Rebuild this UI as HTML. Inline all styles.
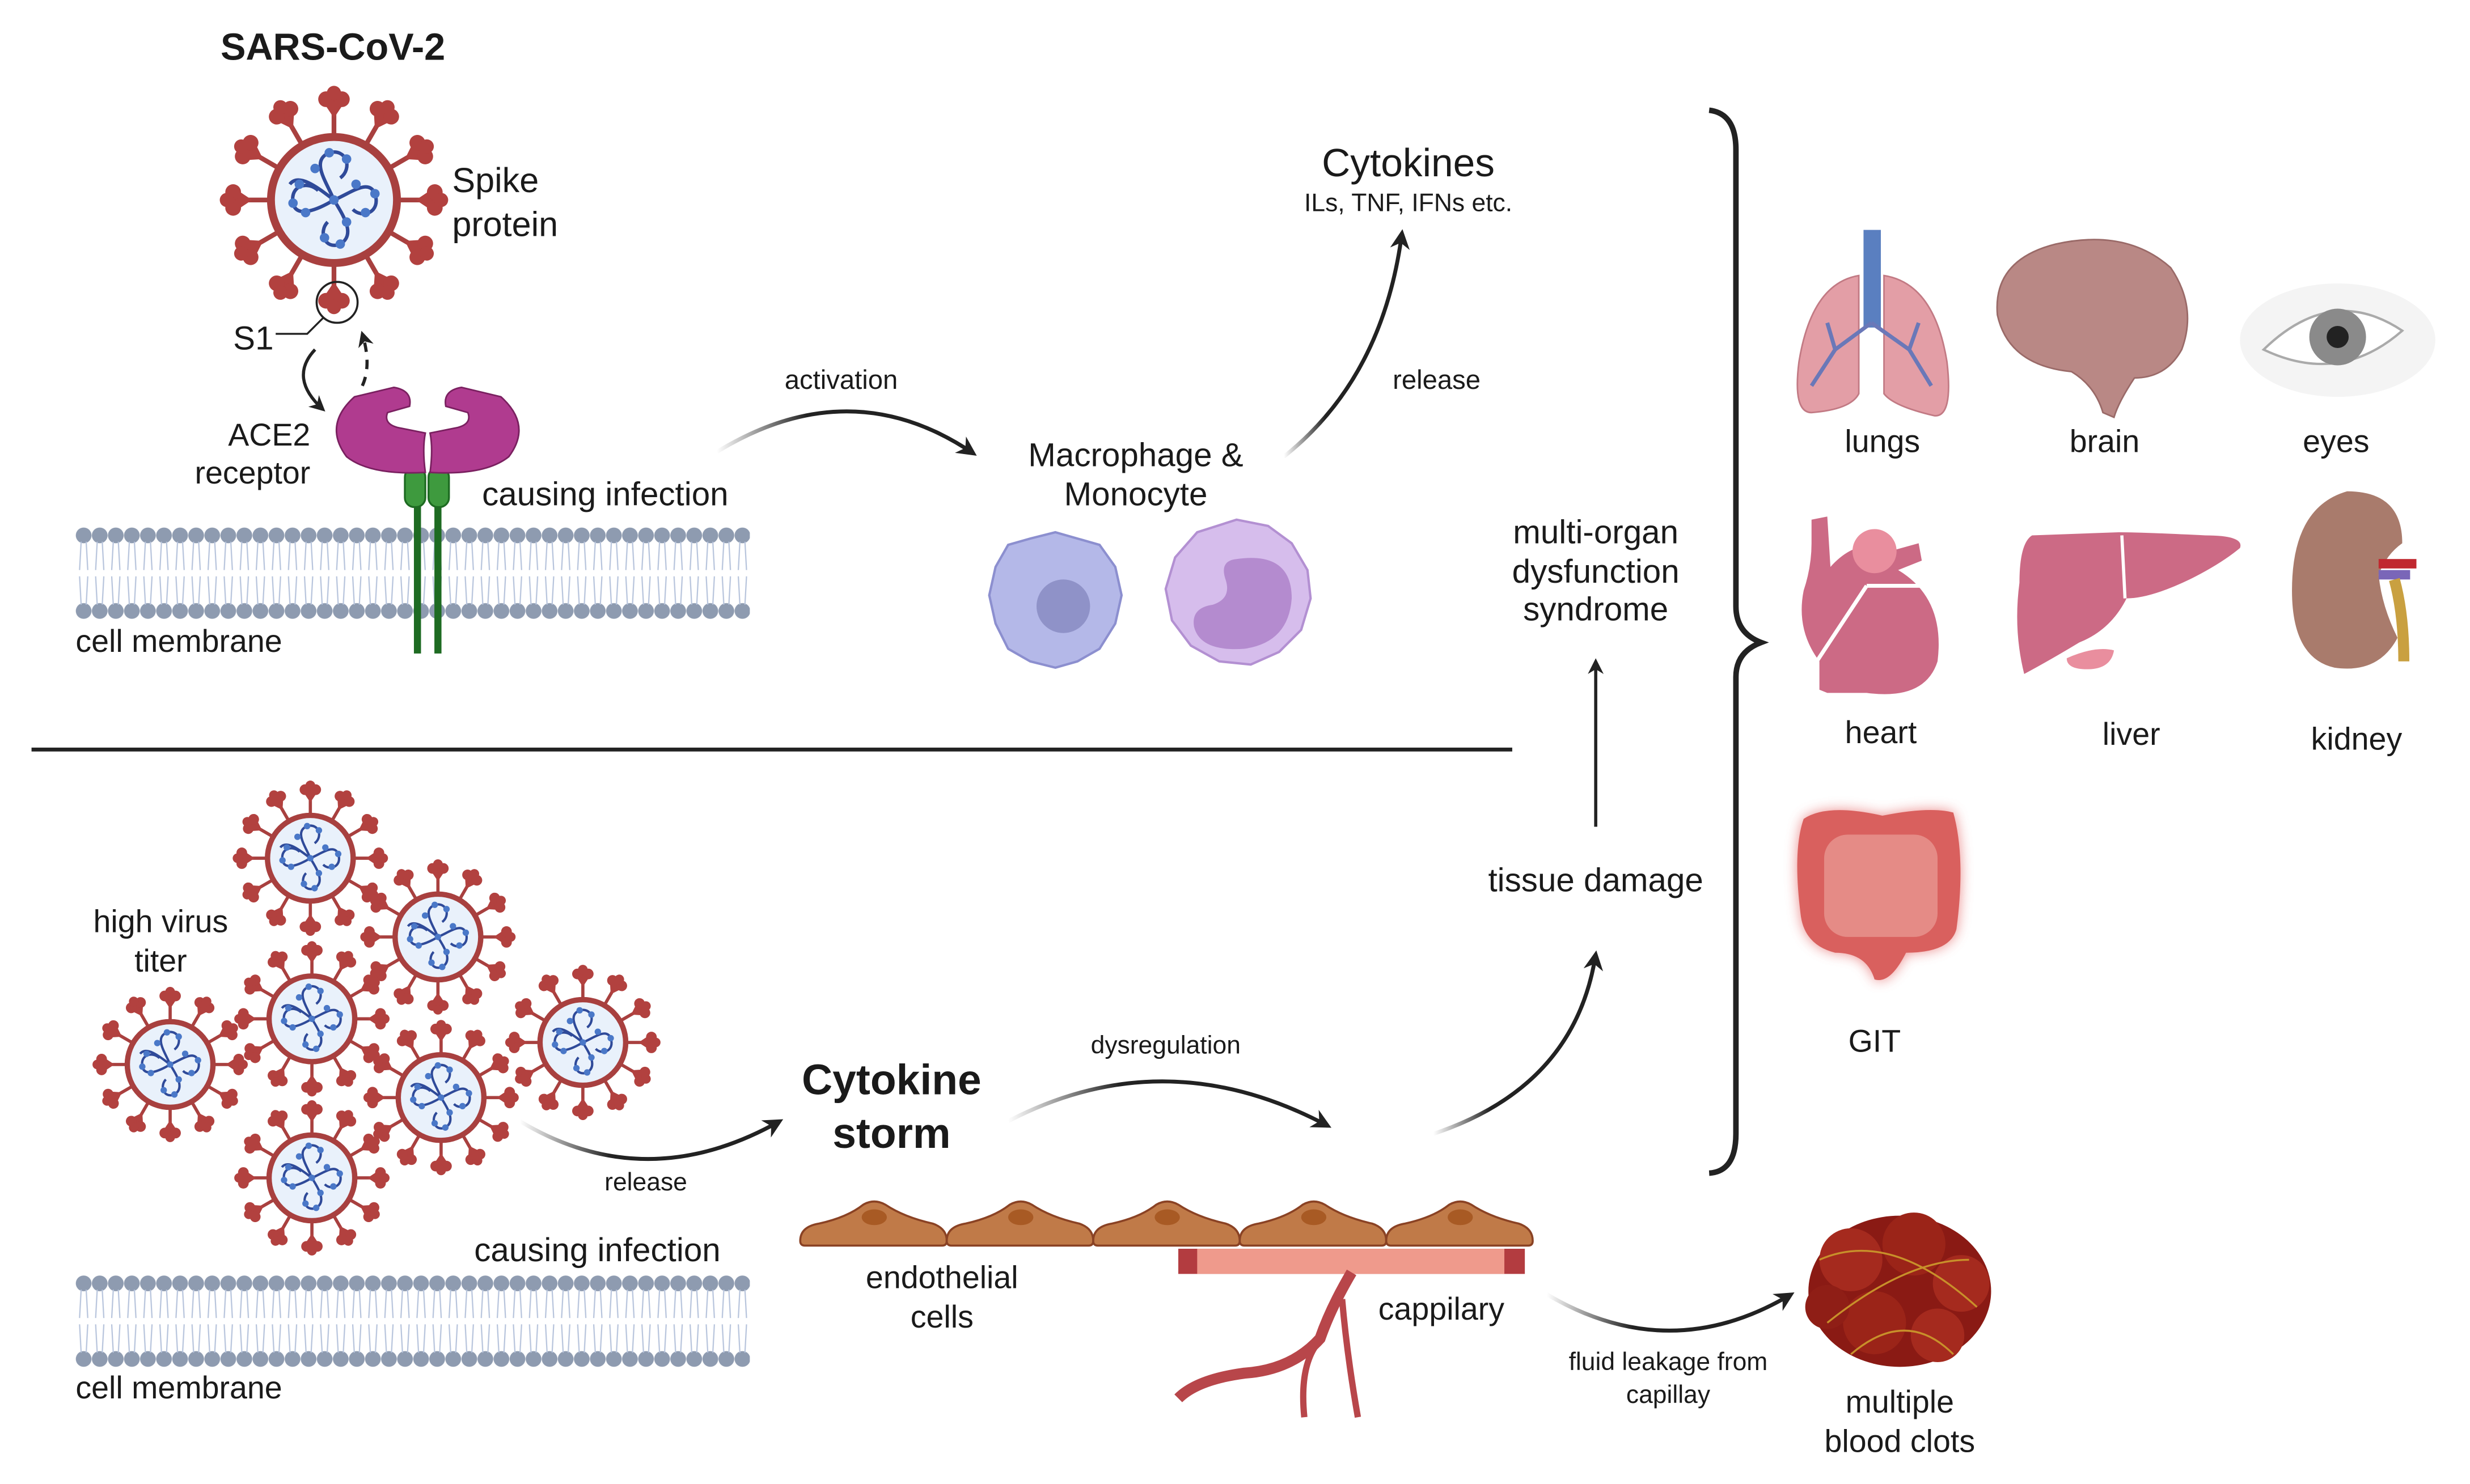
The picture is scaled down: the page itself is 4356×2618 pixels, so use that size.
<!DOCTYPE html>
<html><head><meta charset="utf-8"><style>
html,body{margin:0;padding:0;background:#fff;}
svg{display:block;}
text{font-family:"Liberation Sans",sans-serif;fill:#1a1a1a;}
</style></head><body>
<svg width="4356" height="2618" viewBox="0 0 1568 942.4" xmlns="http://www.w3.org/2000/svg">
<defs>
<marker id="ah" viewBox="0 0 10 10" refX="8" refY="5" markerWidth="5" markerHeight="5" orient="auto"><path d="M0,0 L10,5 L0,10 L3,5z" fill="#222"/></marker>
<linearGradient id="fadeR" x1="0" x2="1" y1="0" y2="0"><stop offset="0" stop-color="#222" stop-opacity="0"/><stop offset="0.35" stop-color="#222"/></linearGradient>
<g id="spike"><line x1="0" y1="-40" x2="0" y2="-56" stroke="#a8403f" stroke-width="3"/><path d="M0,-52 L-8,-64 L8,-64z" fill="#b2413f"/><circle cx="-5" cy="-64" r="5" fill="#b2413f"/><circle cx="5" cy="-64" r="5" fill="#b2413f"/><circle cx="0" cy="-68" r="4.5" fill="#b2413f"/></g>
<g id="virus">
<circle r="40" fill="#e9f1fb" stroke="#a8403f" stroke-width="5"/>
<use href="#spike"/><use href="#spike" transform="rotate(30)"/><use href="#spike" transform="rotate(60)"/><use href="#spike" transform="rotate(90)"/><use href="#spike" transform="rotate(120)"/><use href="#spike" transform="rotate(150)"/><use href="#spike" transform="rotate(180)"/><use href="#spike" transform="rotate(210)"/><use href="#spike" transform="rotate(240)"/><use href="#spike" transform="rotate(270)"/><use href="#spike" transform="rotate(300)"/><use href="#spike" transform="rotate(330)"/>
<g fill="none" stroke="#2f4a99" stroke-width="2.2">
<path d="M0,0 C-5,-12 -15,-25 -3,-30 C8,-33 12,-20 4,-14"/>
<path d="M0,0 C10,-4 22,-14 26,-4 C30,8 18,12 12,6"/>
<path d="M0,0 C6,10 14,22 4,28 C-6,32 -10,20 -4,14"/>
<path d="M0,0 C-10,6 -24,12 -26,2 C-28,-10 -16,-12 -10,-6"/>
<path d="M0,0 C-8,-6 -22,-18 -28,-10"/>
</g>
<g fill="#4a78c8"><circle cx="-3" cy="-30" r="3"/><circle cx="8" cy="-26" r="3"/><circle cx="-12" cy="-20" r="3"/><circle cx="26" cy="-4" r="3"/><circle cx="20" cy="8" r="3"/><circle cx="14" cy="-10" r="3"/><circle cx="4" cy="28" r="3"/><circle cx="-6" cy="24" r="3"/><circle cx="8" cy="14" r="3"/><circle cx="-26" cy="2" r="3"/><circle cx="-18" cy="8" r="3"/><circle cx="-22" cy="-10" r="3"/><circle cx="0" cy="0" r="3"/></g>
</g>
<pattern id="mem" x="48" y="333" width="10.2" height="62" patternUnits="userSpaceOnUse">
<circle cx="5.1" cy="7" r="5" fill="#8e9bb0"/><circle cx="5.1" cy="55" r="5" fill="#8e9bb0"/>
<path d="M3.5,11 L2.5,29 M6.7,11 L7.7,29 M3.5,51 L2.5,33 M6.7,51 L7.7,33" stroke="#b7c4dc" stroke-width="0.8"/>
</pattern>
<pattern id="mem2" x="48" y="808" width="10.2" height="62" patternUnits="userSpaceOnUse">
<circle cx="5.1" cy="7" r="5" fill="#8e9bb0"/><circle cx="5.1" cy="55" r="5" fill="#8e9bb0"/>
<path d="M3.5,11 L2.5,29 M6.7,11 L7.7,29 M3.5,51 L2.5,33 M6.7,51 L7.7,33" stroke="#b7c4dc" stroke-width="0.8"/>
</pattern>
<g id="endo"><path d="M0,25 Q0,16 12,14 Q30,10 40,2 Q47,-2 54,2 Q66,10 84,14 Q93,17 93,25 L93,25 Q93,28 90,28 L3,28 Q0,28 0,25z" fill="#c07a48" stroke="#8a4224" stroke-width="1.3"/><ellipse cx="47" cy="10" rx="8" ry="5" fill="#a85a24"/></g>
<filter id="glow"><feGaussianBlur stdDeviation="4"/></filter>
</defs>

<!-- TOP -->
<text x="140" y="38" font-size="24" font-weight="bold">SARS-CoV-2</text>
<use href="#virus" transform="translate(212,127) scale(1.0)"/>
<text x="287" y="122" font-size="22">Spike</text>
<text x="287" y="150" font-size="22">protein</text>
<circle cx="214" cy="192" r="13" fill="none" stroke="#222" stroke-width="1.3"/>
<path d="M205,202 L195,212 L175,212" fill="none" stroke="#222" stroke-width="1.2"/>
<text x="148" y="222" font-size="21">S1</text>
<path d="M200,222 Q183,240 205,260" fill="none" stroke="#222" stroke-width="2" marker-end="url(#ah)"/>
<path d="M230,245 Q236,232 230,212" fill="none" stroke="#222" stroke-width="2" stroke-dasharray="6,5" marker-end="url(#ah)"/>
<text x="197" y="283" font-size="20" text-anchor="end">ACE2</text>
<text x="197" y="307" font-size="20" text-anchor="end">receptor</text>
<rect x="48" y="333" width="428" height="62" fill="url(#mem)"/>
<path d="M265,300 L265,415 M278,300 L278,415" stroke="#1e6b22" stroke-width="4.5"/>
<rect x="257" y="297" width="13" height="25" rx="6" fill="#3e9a3e" stroke="#1e6b22" stroke-width="1.2"/>
<rect x="272" y="297" width="13" height="25" rx="6" fill="#3e9a3e" stroke="#1e6b22" stroke-width="1.2"/>
<path d="M270,300 Q268,285 270,275 L255,272 Q243,270 246,262 L260,258 Q262,248 250,246 L225,252 Q205,270 220,290 Q235,302 270,300z" fill="#b03b8f" stroke="#7a2060" stroke-width="1"/>
<path d="M273,300 Q275,285 273,275 L288,272 Q300,270 297,262 L283,258 Q281,248 293,246 L318,252 Q338,270 323,290 Q308,302 273,300z" fill="#b03b8f" stroke="#7a2060" stroke-width="1"/>
<text x="306" y="321" font-size="21">causing infection</text>
<text x="48" y="414" font-size="20">cell membrane</text>

<path d="M455,287 Q540,235 618,288" fill="none" stroke="url(#fadeR)" stroke-width="2.5" marker-end="url(#ah)"/>
<text x="534" y="247" font-size="17" text-anchor="middle">activation</text>
<text x="721" y="296" font-size="21" text-anchor="middle">Macrophage &amp;</text>
<text x="721" y="321" font-size="21" text-anchor="middle">Monocyte</text>
<path d="M670,338 L684,342 L698,346 L708,360 L712,378 L708,396 L698,412 L684,420 L670,424 L654,420 L640,412 L632,396 L628,378 L632,360 L640,346 L654,342z" fill="#b4b8e8" stroke="#8c8fcf" stroke-width="1.5"/>
<circle cx="675" cy="385" r="17" fill="#8f92c8"/>
<path d="M785,330 L805,334 L820,345 L830,362 L832,380 L826,400 L812,414 L794,422 L774,420 L756,410 L744,394 L740,374 L746,354 L760,338z" fill="#d6bdec" stroke="#b390d2" stroke-width="1.5"/>
<path d="M785,355 Q820,350 820,380 Q818,408 790,412 Q762,414 758,398 Q756,386 770,384 Q782,380 778,368 Q774,356 785,355z" fill="#b48bcf"/>
<path d="M815,290 Q878,240 890,148" fill="none" stroke="url(#fadeR)" stroke-width="2.5" marker-end="url(#ah)"/>
<text x="912" y="247" font-size="17" text-anchor="middle">release</text>
<text x="894" y="112" font-size="25" text-anchor="middle">Cytokines</text>
<text x="894" y="134" font-size="16" text-anchor="middle">ILs, TNF, IFNs etc.</text>

<text x="1013" y="345" font-size="21" text-anchor="middle">multi-organ</text>
<text x="1013" y="370" font-size="21" text-anchor="middle">dysfunction</text>
<text x="1013" y="394" font-size="21" text-anchor="middle">syndrome</text>
<path d="M1013,525 L1013,420" stroke="#222" stroke-width="2" marker-end="url(#ah)"/>
<text x="1013" y="566" font-size="21" text-anchor="middle">tissue damage</text>
<path d="M910,720 Q1000,690 1013,606" fill="none" stroke="url(#fadeR)" stroke-width="2.5" marker-end="url(#ah)"/>

<path d="M1085,70 Q1102,72 1102,95 L1102,385 Q1102,402 1118,408 Q1102,414 1102,430 L1102,720 Q1102,744 1085,745" fill="none" stroke="#222" stroke-width="3.5"/>
<line x1="20" y1="476" x2="960" y2="476" stroke="#222" stroke-width="2.5"/>

<!-- organs -->
<path d="M1180,175 Q1150,180 1142,230 Q1138,262 1150,262 Q1175,260 1180,250z" fill="#e39ea6" stroke="#c27a84" stroke-width="1"/>
<path d="M1196,175 Q1228,180 1236,230 Q1240,265 1228,264 Q1202,258 1196,250z" fill="#e39ea6" stroke="#c27a84" stroke-width="1"/>
<rect x="1183" y="146" width="11" height="62" fill="#5a7fc0"/>
<path d="M1188,205 L1165,222 L1150,245 M1165,222 L1160,205 M1188,205 L1212,222 L1226,245 M1212,222 L1218,205" stroke="#6a78b8" stroke-width="2.5" fill="none"/>
<text x="1195" y="287" font-size="20" text-anchor="middle">lungs</text>
<path d="M1268,200 Q1265,165 1305,155 Q1350,145 1378,170 Q1395,195 1385,222 Q1375,240 1355,240 Q1345,255 1342,265 L1335,262 Q1330,245 1315,236 Q1275,232 1268,200z" fill="#b98885" stroke="#9a6a68" stroke-width="1"/>
<text x="1336" y="287" font-size="20" text-anchor="middle">brain</text>
<ellipse cx="1484" cy="216" rx="62" ry="36" fill="#f4f4f4"/>
<path d="M1437,222 Q1480,180 1525,210 Q1485,245 1437,222z" fill="#fff" stroke="#aaa" stroke-width="1.5"/>
<circle cx="1484" cy="214" r="18" fill="#8a8a8a"/><circle cx="1484" cy="214" r="7" fill="#222"/>
<text x="1483" y="287" font-size="20" text-anchor="middle">eyes</text>
<path d="M1150,330 L1160,328 L1162,360 Q1180,340 1200,350 L1218,345 L1220,356 L1205,362 Q1235,380 1230,420 Q1222,445 1185,440 L1160,440 L1155,438 L1155,420 Q1140,400 1145,375 Q1150,360 1150,345z" fill="#cc6a85"/>
<circle cx="1190" cy="350" r="14" fill="#e98e9e"/>
<path d="M1185,372 L1150,425 M1185,372 L1230,372" stroke="#fff" stroke-width="2.5"/>
<text x="1194" y="472" font-size="20" text-anchor="middle">heart</text>
<path d="M1290,340 L1345,338 Q1360,338 1400,340 Q1425,340 1422,348 Q1410,358 1390,368 Q1365,380 1350,380 Q1340,400 1320,408 Q1300,420 1285,428 Q1278,400 1282,370 Q1282,345 1290,340z" fill="#cc6a85"/>
<line x1="1347" y1="340" x2="1349" y2="380" stroke="#fff" stroke-width="2"/>
<path d="M1312,418 Q1330,410 1342,413 Q1340,425 1325,425 Q1312,425 1312,418z" fill="#e98e9e"/>
<text x="1353" y="473" font-size="20" text-anchor="middle">liver</text>
<path d="M1490,312 Q1525,312 1525,345 Q1515,352 1510,365 Q1512,385 1522,405 Q1510,428 1482,424 Q1455,418 1455,375 Q1455,322 1490,312z" fill="#a97b6c"/>
<rect x="1510" y="355" width="24" height="6" fill="#c0282f"/><rect x="1510" y="362" width="20" height="6" fill="#7a66b8"/>
<path d="M1520,368 Q1526,390 1526,420" stroke="#c9a040" stroke-width="7" fill="none"/>
<text x="1496" y="476" font-size="20" text-anchor="middle">kidney</text>
<path d="M1145,520 Q1160,510 1195,518 Q1225,512 1240,516 Q1248,545 1242,590 Q1238,605 1210,605 Q1200,625 1190,622 Q1185,605 1165,605 Q1145,600 1143,580 Q1138,540 1145,520z" fill="#e35b5b" filter="url(#glow)" opacity="0.7"/>
<path d="M1145,520 Q1160,510 1195,518 Q1225,512 1240,516 Q1248,545 1242,590 Q1238,605 1210,605 Q1200,625 1190,622 Q1185,605 1165,605 Q1145,600 1143,580 Q1138,540 1145,520z" fill="#d9605e"/>
<rect x="1158" y="530" width="72" height="65" rx="15" fill="#e58b86"/>
<text x="1190" y="668" font-size="20" text-anchor="middle">GIT</text>

<!-- BOTTOM -->
<use href="#virus" transform="translate(197,545) scale(0.68)"/>
<use href="#virus" transform="translate(278,595) scale(0.68)"/>
<use href="#virus" transform="translate(198,647) scale(0.68)"/>
<use href="#virus" transform="translate(108,676) scale(0.68)"/>
<use href="#virus" transform="translate(280,697) scale(0.68)"/>
<use href="#virus" transform="translate(370,662) scale(0.68)"/>
<use href="#virus" transform="translate(198,748) scale(0.68)"/>
<text x="102" y="592" font-size="20" text-anchor="middle">high virus</text>
<text x="102" y="617" font-size="20" text-anchor="middle">titer</text>
<path d="M330,712 Q410,760 495,712" fill="none" stroke="url(#fadeR)" stroke-width="2.5" marker-end="url(#ah)"/>
<text x="410" y="756" font-size="16" text-anchor="middle">release</text>
<text x="566" y="695" font-size="27" font-weight="bold" text-anchor="middle">Cytokine</text>
<text x="566" y="729" font-size="27" font-weight="bold" text-anchor="middle">storm</text>
<path d="M640,712 Q740,660 843,715" fill="none" stroke="url(#fadeR)" stroke-width="2.5" marker-end="url(#ah)"/>
<text x="740" y="669" font-size="16" text-anchor="middle">dysregulation</text>
<use href="#endo" transform="translate(508,763)"/>
<use href="#endo" transform="translate(601,763)"/>
<use href="#endo" transform="translate(694,763)"/>
<use href="#endo" transform="translate(787,763)"/>
<use href="#endo" transform="translate(880,763)"/>
<rect x="748" y="793" width="220" height="16" fill="#b33c40"/>
<rect x="760" y="793" width="195" height="16" fill="#ef9a8c"/>
<path d="M858,808 Q845,830 838,850 Q820,870 790,872 Q760,876 748,888" fill="none" stroke="#b8464a" stroke-width="7"/>
<path d="M835,855 Q825,870 828,900 M852,825 Q855,860 862,900" fill="none" stroke="#b8464a" stroke-width="4"/>
<text x="598" y="818" font-size="20" text-anchor="middle">endothelial</text>
<text x="598" y="843" font-size="20" text-anchor="middle">cells</text>
<text x="915" y="838" font-size="20" text-anchor="middle">cappilary</text>
<rect x="48" y="808" width="428" height="62" fill="url(#mem2)"/>
<text x="301" y="801" font-size="21">causing infection</text>
<text x="48" y="888" font-size="20">cell membrane</text>
<path d="M982,822 Q1060,868 1137,822" fill="none" stroke="url(#fadeR)" stroke-width="2.5" marker-end="url(#ah)"/>
<text x="1059" y="870" font-size="16" text-anchor="middle">fluid leakage from</text>
<text x="1059" y="891" font-size="16" text-anchor="middle">capillay</text>
<g>
<ellipse cx="1206" cy="820" rx="58" ry="48" fill="#8a1a14"/>
<circle cx="1175" cy="800" r="20" fill="#a52a1e"/><circle cx="1215" cy="790" r="20" fill="#9b2418"/><circle cx="1245" cy="815" r="18" fill="#a52a1e"/><circle cx="1190" cy="840" r="20" fill="#9b2418"/><circle cx="1230" cy="848" r="17" fill="#a52a1e"/><circle cx="1160" cy="830" r="14" fill="#8f1e16"/>
<path d="M1155,800 Q1200,780 1255,830 M1160,840 Q1210,800 1250,800 M1175,860 Q1210,830 1240,860" stroke="#c8902a" stroke-width="1.2" fill="none"/>
</g>
<text x="1206" y="897" font-size="20" text-anchor="middle">multiple</text>
<text x="1206" y="922" font-size="20" text-anchor="middle">blood clots</text>
</svg>
</body></html>
